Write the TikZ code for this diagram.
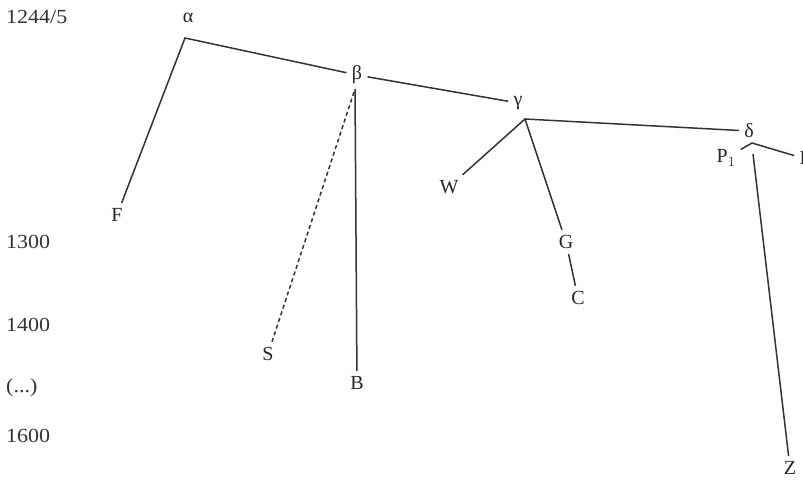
\documentclass[tikz,border=0pt]{standalone}
\usepackage{fontspec}
\setmainfont{Liberation Serif}
\begin{document}
\begin{tikzpicture}[x=1pt,y=-1pt,
  branch/.style={draw=black!80,line width=1.5pt},
  doubtful/.style={branch,dash pattern=on 4pt off 3pt},
  lbl/.style={inner sep=1.5pt,outer sep=4pt,font=\fontsize{20}{20}\selectfont,text=black!85},
  yearlbl/.style={anchor=west,inner sep=0pt,font=\fontsize{20}{20}\selectfont,text=black!80,xscale=1.1}]
\useasboundingbox (0,0) rectangle (803,481);
\clip (0,0) rectangle (803,481);

% time axis
\node[yearlbl] (y1244) at (6,17)  {1244/5};
\node[yearlbl] (y1300) at (6,242) {1300};
\node[yearlbl] (y1400) at (6,325) {1400};
\node[yearlbl] (ygap)  at (6,388) {(...)};
\node[yearlbl] (y1600) at (6,436) {1600};

% labels of the stemma
\node[lbl] (alpha) at (188,18)  {α};
\node[lbl] (beta)  at (357,75)  {β};
\node[lbl] (gamma) at (518,103) {γ};
\node[lbl] (delta) at (749,131) {δ};
\node[lbl] (F) at (117,215) {F};
\node[lbl] (S) at (268,354) {S};
\node[lbl] (B) at (357,383) {B};
\node[lbl] (W) at (449,187) {W};
\node[lbl] (G) at (566,242) {G};
\node[lbl] (C) at (578,298) {C};
\node[lbl] (P1) at (726,158) {P$_1$};
\node[lbl] (P2) at (809,160) {P$_2$};
\node[lbl] (Z) at (790,468) {Z};

% branching points
\coordinate (ja) at (185,38);
\coordinate (jg) at (525,119);
\coordinate (jd) at (752,143);
\coordinate (zt) at (753,154);
\coordinate (st) at (354,92);
\coordinate (bt) at (355,89);

% branches
\draw[branch] (F) -- (ja) -- (beta);
\draw[branch] (beta) -- (gamma);
\draw[branch] (bt) -- (B);
\draw[doubtful] (st) -- (S);
\draw[branch] (W) -- (jg) -- (G);
\draw[branch] (G) -- (C);
\draw[branch] (jg) -- (delta);
\draw[branch] (P1) -- (jd) -- (P2);
\draw[branch] (zt) -- (Z);
\end{tikzpicture}
\end{document}
